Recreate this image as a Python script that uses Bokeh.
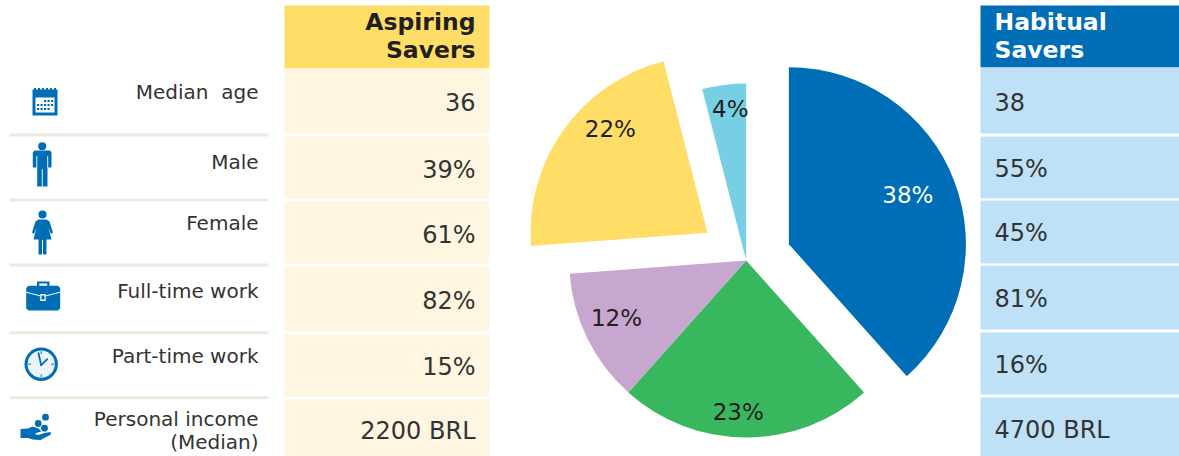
import math
from bokeh.plotting import figure
from bokeh.models import Range1d
from bokeh.core.properties import value
from bokeh.embed import file_html
from bokeh.resources import INLINE

# ---------- data ----------
row_labels = [["Median\u00a0 age"], ["Male"], ["Female"], ["Full-time work"], ["Part-time work"], ["Personal income", "(Median)"]]
aspiring_header = ["Aspiring", "Savers"]
habitual_header = ["Habitual", "Savers"]
aspiring_values = ["36", "39%", "61%", "82%", "15%", "2200 BRL"]
habitual_values = ["38", "55%", "45%", "81%", "16%", "4700 BRL"]
pie_labels = ["38%", "23%", "12%", "22%", "4%"]
pie_shares = [38.4, 23.2, 12.2, 22.2, 4.0]
pie_colors = ["#006EB6", "#39B75E", "#C7A6D0", "#FFDD66", "#76CFE3"]
pie_text_colors = ["#FFFFFF", "#231F20", "#231F20", "#231F20", "#231F20"]

# ---------- layout (reference pixel coordinates, y measured downward) ----------
W, H = 1179, 456
BLUE = "#006EB6"
def Y(v):
    return H - v

p = figure(width=W, height=H, x_range=Range1d(0, W), y_range=Range1d(0, H),
           output_backend="svg", toolbar_location=None, min_border=0)
p.xaxis.visible = False
p.yaxis.visible = False
p.grid.visible = False
p.outline_line_color = None
p.background_fill_color = "#FFFFFF"
p.border_fill_color = "#FFFFFF"

def box(x0, x1, y0, y1, color):
    p.quad(left=[x0], right=[x1], top=[Y(y0)], bottom=[Y(y1)], fill_color=color, line_color=None)

def txt(x, y, s, size, color="#333333", align="left", style="normal", font="DejaVu Sans"):
    # y is the reference baseline; placed through the vertical middle of the text
    p.text(x=[x], y=[Y(y - 0.365 * size)], text=[s], text_font=value(font), text_font_size=f"{size}px",
           text_color=color, text_align=align, text_baseline="middle", text_font_style=style)

def poly(xs, ys, color):
    p.patch([a for a in xs], [Y(b) for b in ys], fill_color=color, line_color=None)

def dot(x, y, r, color):
    p.circle(x=[x], y=[Y(y)], radius=r, fill_color=color, line_color=None)

def seg(x0, y0, x1, y1, w, color):
    p.line([x0, x1], [Y(y0), Y(y1)], line_width=w, line_color=color, line_cap="round")

# table columns
asp_rows = [(68, 133), (136, 198), (201, 263), (266, 331), (334, 396), (399, 456)]
hab_rows = [(67, 133), (136, 198), (200, 263), (265, 329), (332, 394), (397, 456)]
asp_base = [110, 178, 243, 309, 375, 439]
hab_base = [110, 177, 241, 307, 373, 438]
box(284, 489, 5, 68, "#FFDD66")
box(980, 1179, 5, 67, BLUE)
for (a, b), s, base in zip(asp_rows, aspiring_values, asp_base):
    box(284, 489, a, b, "#FEF6E0")
    txt(475, base, s, 24, align="right")
for (a, b), s, base in zip(hab_rows, habitual_values, hab_base):
    box(980, 1179, a, b, "#BEE1F7")
    txt(994, base, s, 24)
for s, base in zip(aspiring_header, [30.5, 58.5]):
    txt(475, base, s, 23.5, color="#231F20", align="right", style="bold")
for s, base in zip(habitual_header, [30, 58]):
    txt(994, base, s, 23.5, color="#FFFFFF", style="bold")

# row labels
label_base = [[98.3], [168.3], [230], [297.7], [362.7], [426, 449]]
for lines, bases in zip(row_labels, label_base):
    for s, base in zip(lines, bases):
        txt(258, base, s, 20, align="right")
for y in [134.5, 199.5, 264.5, 332.3, 397.3]:
    box(9, 268, y - 1.5, y + 1.5, "#ECE9DF")

# pie
CX, CY, R = 745.7, 260.0, 177.0
explode = [45.7, 0, 0, 47.6, 0]
label_radius = [128.7, 152, 142, 142.5, 152]
label_angle = [67.6, 183, 246, 317, 354]
acc = 0.0
for share, col, ex, lab, tc, lr, la in zip(pie_shares, pie_colors, explode, pie_labels,
                                            pie_text_colors, label_radius, label_angle):
    a0 = acc / 100 * 2 * math.pi
    a1 = (acc + share) / 100 * 2 * math.pi
    acc += share
    mid = (a0 + a1) / 2
    ax = CX + ex * math.sin(mid)
    ay = CY - ex * math.cos(mid)
    p.wedge(x=[ax], y=[Y(ay)], radius=R, start_angle=math.pi / 2 - a0, end_angle=math.pi / 2 - a1,
            direction="clock", fill_color=col, line_color=None)
    t = math.radians(la)
    p.text(x=[ax + lr * math.sin(t)], y=[Y(ay - lr * math.cos(t))], text=[lab],
           text_font=value("DejaVu Sans"), text_font_size="23px", text_color=tc,
           text_align="center", text_baseline="middle")

# ---------- icons ----------
# calendar
box(32, 57, 89, 115, BLUE)
box(35, 54, 97, 112, "#FFFFFF")
for i in range(6):
    box(33.5 + i * 4, 35.5 + i * 4, 87.5, 92, BLUE)
for r, (yy, cols) in enumerate([(100.5, [2, 3, 4]), (104.5, [0, 1, 2, 3, 4]), (108.5, [0, 1, 2, 3])]):
    for c in cols:
        box(36.5 + c * 3.5, 38.7 + c * 3.5, yy - 1.1, yy + 1.1, BLUE)

# male
dot(41.7, 145.7, 4, BLUE)
poly([34, 49.5, 51, 51, 47, 47, 36.7, 36.7, 32.3, 32.3], [150, 150, 152, 167, 167, 186, 186, 167, 167, 152], BLUE)
seg(36.3, 156, 36.3, 167, 0.9, "#FFFFFF")
seg(47.2, 156, 47.2, 167, 0.9, "#FFFFFF")
seg(41.8, 169, 41.8, 187, 0.9, "#FFFFFF")

# female
dot(42, 214, 4, BLUE)
poly([38, 46, 49, 52.5, 50.5, 48, 51, 46, 46, 38, 38, 33, 36, 33.5, 31.5, 35],
     [219, 219, 221, 232, 233.5, 227, 239, 239, 254, 254, 239, 239, 227, 233.5, 232, 221], BLUE)
seg(42, 240, 42, 255, 1.0, "#FFFFFF")

# briefcase
box(36.5, 49, 281, 288, BLUE)
box(38.8, 46.8, 283, 288, "#FFFFFF")
poly([28, 57.5, 59.7, 59.7, 57.5, 28, 25.7, 25.7], [285.3, 285.3, 287.5, 308, 310, 310, 308, 287.5], BLUE)
seg(25.7, 291.7, 40, 295.5, 1.0, "#FFFFFF")
seg(45, 295.5, 59.7, 291.7, 1.0, "#FFFFFF")
box(39.8, 45.2, 293.5, 300.5, "#FFFFFF")
box(41, 44, 295, 299, BLUE)

# clock
CLX, CLY = 40.7, 363.7
dot(CLX, CLY, 16.7, BLUE)
dot(CLX, CLY, 13.6, "#EAF4FA")
for k in range(4):
    ang = k * math.pi / 2
    seg(CLX + 10.5 * math.sin(ang), CLY - 10.5 * math.cos(ang),
        CLX + 12.5 * math.sin(ang), CLY - 12.5 * math.cos(ang), 1.0, BLUE)
seg(CLX, CLY + 1, 38, 352.7, 1.8, BLUE)
seg(CLX, CLY + 1, 46.7, 358.7, 1.8, BLUE)

# hand with coins
dot(45, 416.7, 3.4, BLUE)
dot(37.7, 423, 3.4, BLUE)
dot(44, 427.7, 3.4, BLUE)
poly([20, 27.5, 32, 38, 41, 37, 34, 38, 44, 50, 50.5, 40, 32, 27.5, 20],
     [428.5, 428, 426, 428, 431, 432, 433.5, 434.5, 432.5, 431.5, 434, 439.5, 439, 437.5, 437.5], BLUE)

open("out.html", "w").write(file_html(p, INLINE))
